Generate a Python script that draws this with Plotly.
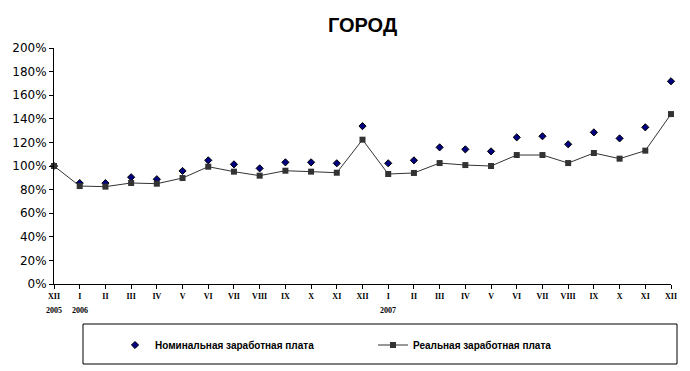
import plotly.graph_objects as go

months = ["XII", "I", "II", "III", "IV", "V", "VI", "VII", "VIII", "IX", "X", "XI", "XII",
          "I", "II", "III", "IV", "V", "VI", "VII", "VIII", "IX", "X", "XI", "XII"]
year_labels = {0: "2005", 1: "2006", 13: "2007"}
y_ticks = list(range(0, 201, 20))
y_tick_labels = ["%d%%" % v for v in y_ticks]

nominal = [100, 85.5, 85.5, 90.5, 88.8, 95.8, 104.8, 101.4, 98.0, 103.1, 103.1, 102.3, 133.8,
           102.3, 104.8, 115.8, 114.1, 112.4, 124.3, 125.2, 118.4, 128.5, 123.4, 132.8, 171.8]
real = [100, 83.0, 82.5, 85.6, 85.0, 89.8, 99.4, 95.2, 91.8, 96.0, 95.2, 94.3, 122.3,
        93.2, 94.1, 102.5, 100.8, 100.0, 109.3, 109.3, 102.5, 111.0, 106.2, 113.0, 144.0]

x = list(range(len(months)))

fig = go.Figure()
fig.add_trace(go.Scatter(
    x=x, y=nominal, mode="markers", name="Номинальная заработная плата",
    marker=dict(symbol="diamond", size=5.5, color="#000080", line=dict(color="#000000", width=1)),
    cliponaxis=False,
))
fig.add_trace(go.Scatter(
    x=x, y=real, mode="lines+markers", name="Реальная заработная плата",
    line=dict(color="#333333", width=1),
    marker=dict(symbol="square", size=6, color="#333333"),
    cliponaxis=False,
))

for i, yl in year_labels.items():
    fig.add_annotation(x=i, y=0, xref="x", yref="paper", text=yl, showarrow=False,
                       yshift=-26, font=dict(family="Liberation Serif", size=8, color="black", weight="bold"),
                       yanchor="middle")

fig.add_shape(type="rect", xref="paper", yref="paper",
              x0=(83 - 54) / 617, x1=(677 - 54) / 617, y0=(284 - 364) / 236, y1=(284 - 324) / 236,
              line=dict(color="black", width=1), fillcolor="rgba(0,0,0,0)")

fig.update_layout(
    width=690, height=371,
    margin=dict(l=54, r=19, t=48, b=87),
    paper_bgcolor="white", plot_bgcolor="white",
    title=dict(text="<b>ГОРОД</b>", x=0.5, xref="paper", xanchor="center", y=1 - 25 / 371, yanchor="middle",
               font=dict(family="Liberation Sans", size=20, color="black")),
    xaxis=dict(range=[0, 24], tickmode="array", tickvals=x, ticktext=months,
               showline=True, linecolor="black", linewidth=1, ticks="outside", ticklen=4, tickcolor="black",
               showgrid=False, zeroline=False,
               tickfont=dict(family="Liberation Serif", size=8, color="black", weight="bold")),
    yaxis=dict(range=[0, 200], tickmode="array", tickvals=y_ticks, ticktext=y_tick_labels,
               showline=True, linecolor="black", linewidth=1, ticks="outside", ticklen=4, tickcolor="black",
               showgrid=False, zeroline=False,
               tickfont=dict(family="DejaVu Sans", size=12, color="black")),
    showlegend=True,
    legend=dict(orientation="h", x=(115 - 54) / 617, xanchor="left", y=(284 - 345) / 236, yanchor="middle",
                entrywidth=213, entrywidthmode="pixels",
                font=dict(family="Liberation Sans", size=10, color="black", weight="bold"),
                bgcolor="rgba(0,0,0,0)", borderwidth=0),
)

fig.write_html("out.html", config={"displayModeBar": False},
               post_script="document.body.style.margin='0';")
